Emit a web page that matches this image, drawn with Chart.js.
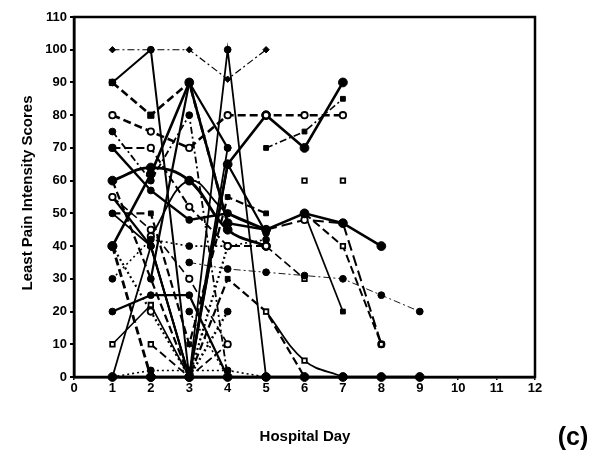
<!DOCTYPE html>
<html>
<head>
<meta charset="utf-8">
<script src="https://cdn.jsdelivr.net/npm/chart.js@4.4.0/dist/chart.umd.min.js"></script>
<style>
  html, body { margin: 0; padding: 0; background: #fff; }
  #wrap { width: 595px; height: 465px; }
</style>
</head>
<body>
<div id="wrap"><canvas id="c" width="595" height="465"></canvas></div>
<script>
// days 1..9, one value per day (null = no reading)
const days = [1, 2, 3, 4, 5, 6, 7, 8, 9];
const xTicks = [0, 1, 2, 3, 4, 5, 6, 7, 8, 9, 10, 11, 12];
const yTicks = [0, 10, 20, 30, 40, 50, 60, 70, 80, 90, 100, 110];

const p01 = [100, 100, 100, 91, 100, null, null, null, null];
const p02 = [90, 100, 0, null, null, null, null, null, null];
const p03 = [90, 80, 90, 47, null, null, null, null, null];
const p04 = [40, 62, 90, 47, 45, 50, 47, 40, null];
const p05 = [80, 75, 70, 80, 80, 80, 80, null, null];
const p06 = [null, null, 0, 65, 80, 70, 90, null, null];
const p07 = [null, null, null, null, 70, 75, 85, null, null];
const p08 = [70, 57, 48, 50, 45, null, null, null, null];
const p09 = [70, 70, 52, 40, 40, null, null, null, null];
const p10 = [60, 64, 60, 45, 40, null, null, null, null];
const p11 = [55, 45, 30, 10, null, null, null, null, null];
const p12 = [50, 40, 0, 100, 0, null, null, null, null];
const p13 = [0, 40, 0, 70, null, null, null, null, null];
const p14 = [40, 0, null, null, null, null, null, null, null];
const p15 = [30, 42, 40, 40, 42, null, null, null, null];
const p16 = [20, 25, 25, 0, null, null, null, null, null];
const p17 = [10, 22, 0, null, null, null, null, null, null];
const p18 = [null, 10, 0, 10, null, null, null, null, null];
const p19 = [0, 2, 2, 2, 0, null, null, null, null];
const p20 = [null, null, 0, 20, null, null, null, null, null];
const p21 = [null, null, 20, 0, 0, null, null, null, null];
const p22 = [0, 0, 0, 0, 0, 0, 0, 0, 0];
const p23 = [null, null, 35, 33, 32, 31, 30, 25, 20];
const p24 = [null, null, null, null, 20, 5, 0, null, null];
const p25 = [null, null, null, null, null, 50, 40, 10, null];
const p26 = [null, null, null, null, 45, 48, 47, 10, null];
const p27 = [null, null, null, null, null, 50, 20, null, null];
const p28 = [null, null, null, null, 40, 30, null, null, null];
const p29 = [null, null, null, null, null, 60, 60, null, null];
const p30 = [75, 60, 80, 0, null, null, null, null, null];
const p31 = [50, 50, 10, 55, 50, null, null, null, null];
const p32 = [60, 30, 0, 30, 20, 0, null, null, null];
const p33 = [null, 43, 60, 50, 45, null, null, null, null];
const p34 = [40, 20, 0, 40, null, null, null, null, null];
const p35 = [55, 40, 0, 65, 44, null, null, null, null];
const p36 = [null, 30, 90, 70, null, null, null, null, null];

const DASH = { solid: [], dash: [8, 4], dot: [2, 3], dashdot: [7, 3, 2, 3], long: [11, 5] };

// [values, line style, line width, marker, open marker]
const series = [
  [p01, 'dashdot', 1.2, 'rectRot', false],
  [p02, 'solid', 2, 'circle', false],
  [p03, 'dash', 2.6, 'rect', false],
  [p04, 'solid', 2.6, 'circle', false],
  [p05, 'dash', 2.6, 'circle', true],
  [p06, 'solid', 2.6, 'circle', false],
  [p07, 'dashdot', 1.6, 'rect', false],
  [p08, 'solid', 2.4, 'circle', false],
  [p09, 'dash', 2, 'circle', true],
  [p10, 'solid', 2.8, 'circle', false],
  [p11, 'dash', 1.6, 'circle', true],
  [p12, 'solid', 1.8, 'circle', false],
  [p13, 'solid', 1.8, 'circle', false],
  [p14, 'dash', 2.8, 'circle', false],
  [p15, 'dot', 1.6, 'circle', false],
  [p16, 'solid', 2.2, 'circle', false],
  [p17, 'solid', 1.6, 'rect', true],
  [p18, 'dash', 1.8, 'rect', true],
  [p19, 'dot', 1.6, 'circle', false],
  [p20, 'dot', 2.4, 'circle', false],
  [p21, 'dot', 1.6, 'circle', false],
  [p22, 'solid', 2.6, 'circle', false],
  [p23, 'dashdot', 0.9, 'circle', false],
  [p24, 'solid', 1.8, 'rect', true],
  [p25, 'dash', 2, 'rect', true],
  [p26, 'long', 2, 'circle', true],
  [p27, 'solid', 1.7, 'rect', false],
  [p28, 'dash', 1.6, 'rect', true],
  [p29, 'none', 1, 'rect', true],
  [p30, 'dashdot', 1.8, 'circle', false],
  [p31, 'dash', 2.2, 'rect', false],
  [p32, 'dash', 2.2, 'rect', false],
  [p33, 'solid', 1.8, 'circle', true],
  [p34, 'dot', 2.2, 'circle', true],
  [p35, 'solid', 2.2, 'circle', false],
  [p36, 'solid', 2.2, 'circle', false]
];

const curved = [p10, p24, p33];

const markerSize = (marker, w, open) => {
  if (marker === 'rectRot') return 3.2;
  if (open) return 3.2;
  if (w > 2.5) return 4.4;
  return 3.4;
};

const datasets = series.map(([vals, style, w, marker, open]) => ({
  data: vals.map((v, i) => ({ x: days[i], y: v })),
  showLine: style !== 'none',
  borderColor: '#000',
  borderWidth: w,
  borderDash: DASH[style] || [],
  tension: curved.includes(vals) ? 0.4 : 0,
  pointStyle: marker,
  pointRadius: markerSize(marker, w, open),
  pointBorderWidth: open ? 1.8 : 1,
  pointBorderColor: '#000',
  pointBackgroundColor: open ? '#fff' : '#000',
  clip: false
}));

const font = { family: 'Liberation Sans, Arial, sans-serif', size: 13, weight: 'bold' };

const frame = {
  id: 'frame',
  afterDraw(chart) {
    const { ctx, chartArea: a } = chart;
    ctx.save();
    ctx.strokeStyle = '#000';
    ctx.lineWidth = 2.5;
    ctx.strokeRect(a.left, a.top, a.right - a.left, a.bottom - a.top);
    ctx.fillStyle = '#000';
    ctx.font = 'bold 15px Liberation Sans, Arial, sans-serif';
    ctx.textAlign = 'center';
    ctx.textBaseline = 'middle';
    ctx.fillText('Hospital Day', 305, 437);
    ctx.save();
    ctx.translate(28, 193);
    ctx.rotate(-Math.PI / 2);
    ctx.fillText('Least Pain Intensity Scores', 0, 0);
    ctx.restore();
    ctx.font = 'bold 25px Liberation Sans, Arial, sans-serif';
    ctx.fillText('(c)', 573, 438);
    ctx.restore();
  }
};

new Chart(document.getElementById('c'), {
  type: 'scatter',
  data: { datasets },
  options: {
    responsive: false,
    animation: false,
    layout: { padding: { left: 0, right: 60, top: 17, bottom: 0 } },
    plugins: { legend: { display: false }, tooltip: { enabled: false } },
    scales: {
      x: {
        type: 'linear', min: 0, max: 12,
        afterFit: s => { s.height = 88; },
        afterBuildTicks: s => { s.ticks = xTicks.map(v => ({ value: v })); },
        grid: { drawOnChartArea: false, tickLength: 3, color: '#000', lineWidth: 1.5 },
        border: { color: '#000', width: 2.5 },
        ticks: { color: '#000', font, padding: 1, maxRotation: 0 }
      },
      y: {
        min: 0, max: 110,
        afterFit: s => { s.width = 74; },
        afterBuildTicks: s => { s.ticks = yTicks.map(v => ({ value: v })); },
        grid: { drawOnChartArea: false, tickLength: 4, color: '#000', lineWidth: 2 },
        border: { color: '#000', width: 2.5 },
        ticks: { color: '#000', font, padding: 3 }
      }
    }
  },
  plugins: [frame]
});
</script>
</body>
</html>
